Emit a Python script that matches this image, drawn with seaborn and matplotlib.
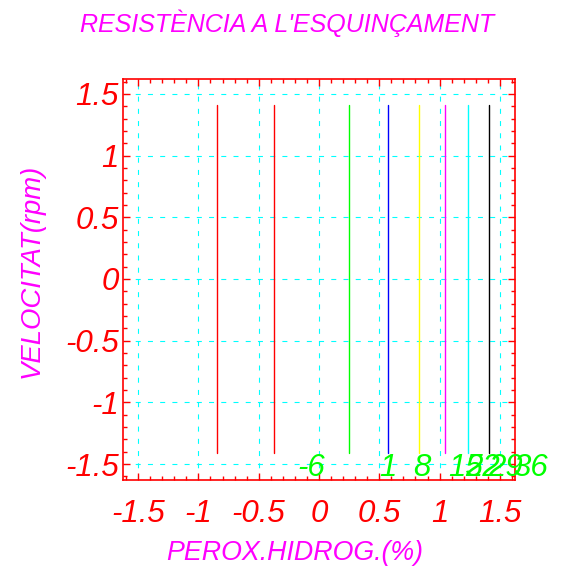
import numpy as np
import pandas as pd
import matplotlib
matplotlib.use("Agg")
import matplotlib.pyplot as plt
from matplotlib.ticker import MultipleLocator
import seaborn as sns

# Contour levels of the response and where each iso-line sits along the x factor
levels = [-6, 1, 8, 15, 22, 29, 36]
line_level = [-6, -6, 1, 8, 15, 22, 29, 36]
line_x = [-0.848, -0.373, 0.249, 0.572, 0.827, 1.045, 1.239, 1.413]
line_y = [-1.414, 1.414]

# Axis ticks and their labels
tick_vals = [-1.5, -1.0, -0.5, 0.0, 0.5, 1.0, 1.5]
tick_text = ["-1.5", "-1", "-0.5", "0", "0.5", "1", "1.5"]

level_colors = {-6: "#ff0000", 1: "#00ff00", 8: "#0000ff", 15: "#ffff00",
                22: "#ff00ff", 29: "#00ffff", 36: "#000000"}
label_x = [-0.177, 0.503, 0.778, 1.068, 1.209, 1.400, 1.607]

rows = []
for i, (lx, lv) in enumerate(zip(line_x, line_level)):
    for yy in line_y:
        rows.append({"x": lx, "y": yy, "line": i, "level": lv})
df = pd.DataFrame(rows)

sns.set_style("white")
plt.rcParams["font.family"] = ["Liberation Sans", "DejaVu Sans"]

fig = plt.figure(figsize=(5.65, 5.67), dpi=100)
ax = fig.add_axes([123 / 565, 1 - 479.5 / 567, 392 / 565, 401 / 567])

sns.lineplot(data=df, x="x", y="y", hue="level", units="line", estimator=None,
             sort=False, palette=level_colors, legend=False, linewidth=1.0, ax=ax)

ax.set_xlim(-1.625, 1.625)
ax.set_ylim(-1.625, 1.625)

red = "#ff0000"
for sp in ax.spines.values():
    sp.set_color(red)
    sp.set_linewidth(1.2)
    sp.set_visible(True)

ax.set_xticks(tick_vals)
ax.set_xticklabels(tick_text)
ax.set_yticks(tick_vals)
ax.set_yticklabels(tick_text)
ax.xaxis.set_minor_locator(MultipleLocator(0.1))
ax.yaxis.set_minor_locator(MultipleLocator(0.1))
ax.tick_params(which="both", direction="in", color=red, top=True, right=True,
               bottom=True, left=True)
ax.tick_params(which="major", length=5, width=1)
ax.tick_params(which="minor", length=3, width=1)
ax.tick_params(axis="x", which="major", pad=14, labelsize=22.5, labelcolor=red)
ax.tick_params(axis="y", which="major", pad=3, labelsize=22.5, labelcolor=red)
for lab in ax.get_xticklabels() + ax.get_yticklabels():
    lab.set_fontstyle("italic")

ax.grid(True, which="major", color="#00ffff", linestyle=(0, (4.5, 6.5)), linewidth=0.8)
ax.set_axisbelow(True)
ax.set_xlabel("")
ax.set_ylabel("")

# Level values written along the bottom of the plot
for lx, lv in zip(label_x, levels):
    ax.text(lx, -1.60, str(lv), color="#00ff00", fontsize=22.5, fontstyle="italic",
            ha="left", va="baseline", clip_on=False)

mag = "#ff00ff"
fig.text(287.5 / 565, 1 - 23 / 567, "RESISTÈNCIA A L'ESQUINÇAMENT", color=mag,
         fontsize=18, fontstyle="italic", ha="center", va="center")
fig.text(294.5 / 565, 1 - 553 / 567, "PEROX.HIDROG.(%)", color=mag,
         fontsize=19.3, fontstyle="italic", ha="center", va="center")
fig.text(32 / 565, 1 - 271 / 567, "VELOCITAT(rpm)", color=mag, rotation=90,
         fontsize=19.8, fontstyle="italic", ha="center", va="center")

fig.savefig("out.png", dpi=100)
